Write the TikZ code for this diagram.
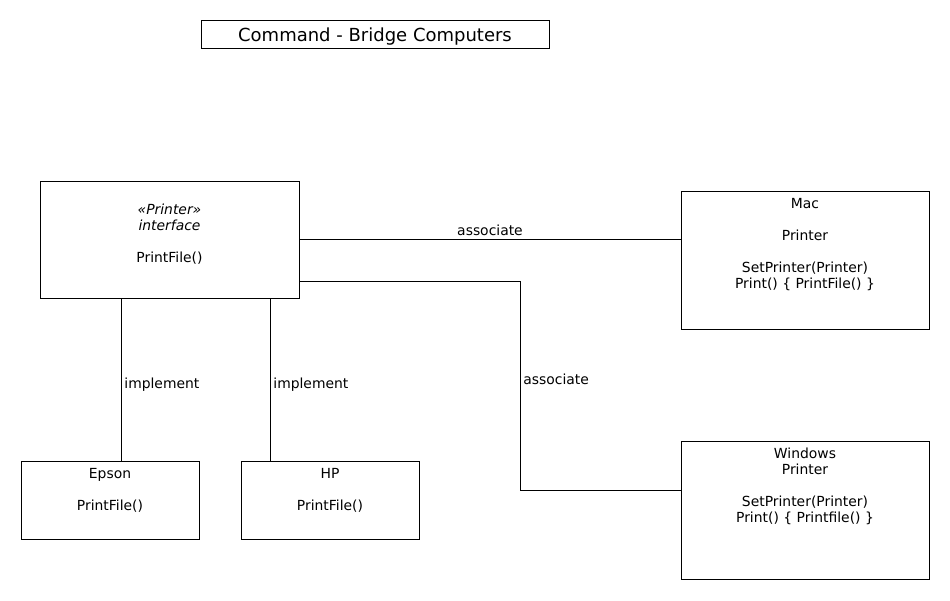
\documentclass[tikz,border=0pt]{standalone}
\usepackage{fontspec}
\setmainfont{DejaVu Sans}
\usepackage{tikz}

\begin{document}
\begin{tikzpicture}[x=1pt, y=-1pt, line width=0.8pt,
    box/.style={draw=black, inner sep=0pt},
    txt/.style={anchor=north, align=center, inner sep=0pt, font=\fontsize{13.9}{16}\selectfont},
    lbl/.style={inner sep=3pt, font=\fontsize{13.9}{16}\selectfont}]
    \useasboundingbox (0,0) rectangle (950,600);
    \node[box, minimum width=348pt, minimum height=28pt, text height=18.5pt, text depth=3.8pt, font=\fontsize{18}{20}\selectfont] (title) at (375,34) {Command - Bridge Computers};
    \node[box, minimum width=259pt, minimum height=117pt] (iface) at (169.5,239.5) {};
    \node[box, minimum width=248pt, minimum height=138pt] (mac) at (805,260) {};
    \node[box, minimum width=248pt, minimum height=138pt] (win) at (805,510) {};
    \node[box, minimum width=178pt, minimum height=78pt] (epson) at (110,500) {};
    \node[box, minimum width=178pt, minimum height=78pt] (hp) at (330,500) {};
    \node[txt] (ifaceT) at (169.5,204) {\textit{«Printer»}\\\textit{interface}\\[16pt]PrintFile()};
    \node[txt] (macT) at (805,198) {Mac\\[16pt]Printer\\[16pt]SetPrinter(Printer)\\Print() \{ PrintFile() \}};
    \node[txt] (winT) at (805,448) {Windows\\Printer\\[16pt]SetPrinter(Printer)\\Print() \{ Printfile() \}};
    \node[txt] (epsonT) at (110,468) {Epson\\[16pt]PrintFile()};
    \node[txt] (hpT) at (330,468) {HP\\[16pt]PrintFile()};
    \coordinate (bend) at (520,490);
    \draw (iface.east) -- node[lbl, midway, above] {associate} (iface.east -| mac.west);
    \draw ([yshift=17pt]iface.south east) -| (bend) node[lbl, pos=0.735, right] {associate} -- (bend -| win.west);
    \draw ([xshift=11pt]epson.north) -- node[lbl, pos=0.47, right] {implement} ([xshift=11pt]epson.north |- iface.south);
    \draw ([xshift=-60pt]hp.north) -- node[lbl, pos=0.47, right] {implement} ([xshift=-60pt]hp.north |- iface.south);
\end{tikzpicture}
\end{document}
